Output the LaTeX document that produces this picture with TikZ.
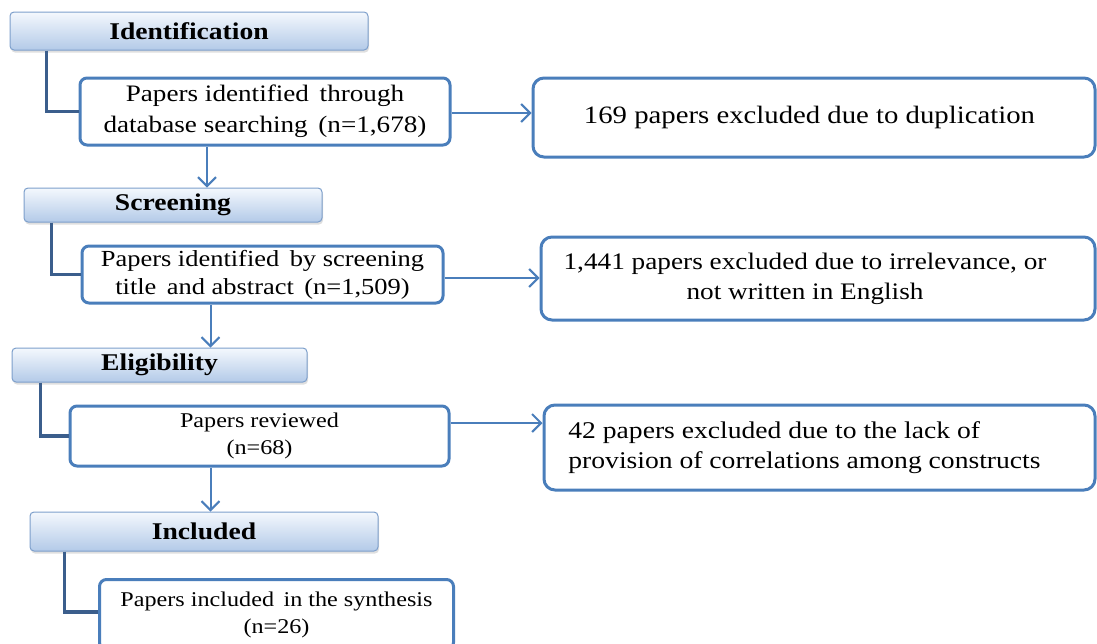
\documentclass[tikz,border=0pt]{standalone}
\usepackage{fontspec}
\setmainfont[FakeStretch=1.15]{Liberation Serif}
\usetikzlibrary{arrows.meta,shadows}
\definecolor{bord}{HTML}{4A7EBB}
\definecolor{conn}{HTML}{3B5E8C}
\definecolor{hdtop}{HTML}{F4F8FD}
\definecolor{hdbot}{HTML}{B3CAE8}
\definecolor{hdline}{HTML}{7D9FCB}
\tikzset{
  hdr/.style={draw=hdline, line width=1pt, rounded corners=4pt, top color=hdtop, bottom color=hdbot,
    inner sep=0pt, font=\fontsize{24}{28}\selectfont\bfseries,
    drop shadow={opacity=0.25, shadow xshift=1pt, shadow yshift=-2.5pt}},
  lbox/.style={draw=bord, line width=3pt, rounded corners=7pt, fill=white, inner sep=0pt, align=center},
  rbox/.style={draw=bord, line width=3pt, rounded corners=11pt, fill=white, inner sep=0pt, align=center},
  elbow/.style={draw=conn, line width=3.2pt},
  arr/.style={draw=bord, line width=2pt, -{Straight Barb[length=9pt,width=18pt,line width=2pt]}},
}
\begin{document}
\begin{tikzpicture}[x=1pt,y=-1pt]
\useasboundingbox (0,0) rectangle (1097,643);
% headers
\node[hdr, minimum width=358pt, minimum height=38pt] (h1) at (189,31) {Identification};
\node[hdr, minimum width=298pt, minimum height=34pt] (h2) at (173,205) {Screening};
\node[hdr, minimum width=295pt, minimum height=34pt] (h3) at (159.5,365) {Eligibility};
\node[hdr, minimum width=348pt, minimum height=39pt] (h4) at (204,531.5) {Included};
% left boxes
\node[lbox, minimum width=370pt, minimum height=67pt, font=\fontsize{23.6}{31}\selectfont] (b1) at (265,111.5)
  {Papers identified \,through\\database searching \,(n=1,678)};
\node[lbox, minimum width=361pt, minimum height=57pt, font=\fontsize{23}{28}\selectfont] (b2) at (262.5,274.5)
  {Papers identified \,by screening\\title \,and abstract \,(n=1,509)};
\node[lbox, minimum width=379pt, minimum height=60pt, font=\fontsize{21}{27}\selectfont] (b3) at (259.5,436)
  {Papers reviewed\\(n=68)};
\node[lbox, minimum width=354pt, minimum height=70pt, font=\fontsize{21}{27}\selectfont, anchor=north west] (b4) at (98,578)
  {\rule{0pt}{16pt}Papers included \,in the synthesis\\(n=26)};
% right boxes
\node[rbox, minimum width=562pt, minimum height=79pt, font=\fontsize{25}{30}\selectfont] (r1) at (814,117.5)
  {169 papers excluded due to duplication\kern9pt};
\node[rbox, minimum width=554pt, minimum height=83pt, font=\fontsize{23.7}{30}\selectfont] (r2) at (818,278.5)
  {1,441 papers excluded due to irrelevance, or\kern26pt\\not written in English\kern26pt};
\node[rbox, minimum width=551pt, minimum height=85pt, font=\fontsize{24}{30}\selectfont, align=left] (r3) at (819.5,447.5)
  {42 papers excluded due to the lack of\\provision of correlations among constructs\kern30pt};
% elbow connectors
\draw[elbow] ([xshift=37pt]h1.south west) |- (b1.west);
\draw[elbow] ([xshift=28pt]h2.south west) |- (b2.west);
\draw[elbow] ([xshift=29pt]h3.south west) |- (b3.west);
\draw[elbow] ([xshift=35pt]h4.south west) |- ([yshift=-34pt]b4.north west);
% horizontal arrows
\draw[arr] ([yshift=-1.5pt]b1.east) -- ([yshift=-1.5pt]b1.east -| r1.west);
\draw[arr] ([yshift=-3.5pt]b2.east) -- ([yshift=-3.5pt]b2.east -| r2.west);
\draw[arr] ([yshift=13pt]b3.east) -- ([yshift=13pt]b3.east -| r3.west);
% down arrows
\draw[arr] ([xshift=-58pt]b1.south) -- ([xshift=-58pt]b1.south |- h2.north);
\draw[arr] ([xshift=-52pt]b2.south) -- ([xshift=-52pt]b2.south |- h3.north);
\draw[arr] ([xshift=-49pt]b3.south) -- ([xshift=-49pt]b3.south |- h4.north);
\end{tikzpicture}
\end{document}
